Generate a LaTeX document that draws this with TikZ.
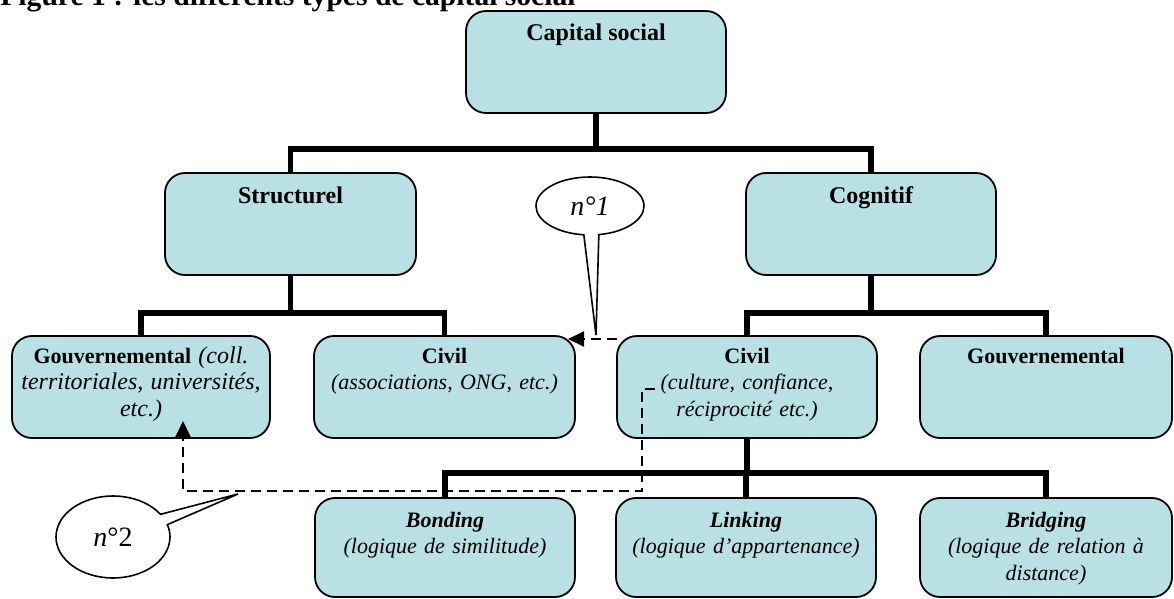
\documentclass[tikz,border=0pt]{standalone}
\usepackage{fontspec}
\setmainfont{Liberation Serif}
\usetikzlibrary{arrows.meta,shapes.callouts,fit}
\definecolor{boxfill}{RGB}{185,224,228}
\begin{document}
\begin{tikzpicture}[x=0.5pt,y=-0.5pt,
  box/.style={draw=black,line width=0.9pt,fill=boxfill,rounded corners=10pt,inner sep=0pt},
  conn/.style={line width=2.6pt,line join=miter},
  dashln/.style={line width=1pt,dash pattern=on 5pt off 3pt},
  tip/.style={-{Triangle[length=8pt,width=7.5pt]}},
  bigtxt/.style={font=\fontsize{12}{14}\selectfont\bfseries,anchor=base,inner sep=0pt},
  txt/.style={font=\fontsize{11}{13.25}\selectfont,align=center,anchor=base,inner sep=0pt,text width=126pt},
  callbox/.style={ellipse callout,draw=black,line width=0.8pt,fill=white,inner sep=0pt,callout pointer arc=16,font=\fontsize{14}{16}\selectfont}
]
\useasboundingbox (0,0) rectangle (1174,599);
\clip (0,0) rectangle (1174,599);
\node[font=\fontsize{14.8}{16}\selectfont\bfseries,anchor=base west,inner sep=0pt] (title) at (0,6) {Figure 1 : les différents types de capital social};

% boxes
\node[box,fit={(466,11) (726,113)}] (cap) {};
\node[box,fit={(165,173) (416,275)}] (struct) {};
\node[box,fit={(746,173) (996,275)}] (cog) {};
\node[box,fit={(12,336) (270,438)}] (gouvS) {};
\node[box,fit={(314,336) (575,438)}] (civS) {};
\node[box,fit={(617,336) (877,438)}] (civC) {};
\node[box,fit={(920,336) (1172,438)}] (gouvC) {};
\node[box,fit={(315,498) (575,597)}] (bond) {};
\node[box,fit={(616,498) (876,597)}] (link) {};
\node[box,fit={(920,498) (1172,597)}] (bridg) {};

% texts
\node[bigtxt] (tcap) at (cap.north |- 0,41) {Capital social};
\node[bigtxt] (tstruct) at (struct.north |- 0,204) {Structurel};
\node[bigtxt] (tcog) at (cog.north |- 0,204) {Cognitif};
\node[txt,text width=128pt] (tgouvS) at (gouvS.north |- 0,363) {\textbf{Gouvernemental} {\fontsize{12}{13.5}\selectfont\textit{(coll.}}\\ {\fontsize{12}{13.5}\selectfont\textit{territoriales, universités,}}\\ {\fontsize{12}{13.5}\selectfont\textit{etc.)}}};
\node[txt] (tcivS) at (civS.north |- 0,363) {\textbf{Civil}\\ \textit{(associations, ONG, etc.)}};
\node[txt] (tcivC) at (civC.north |- 0,363) {\textbf{Civil}\\ \textit{(culture, confiance,}\\ \textit{réciprocité etc.)}};
\node[txt] (tgouvC) at (gouvC.north |- 0,363) {\textbf{Gouvernemental}};
\node[txt] (tbond) at (bond.north |- 0,527) {\textbf{\textit{Bonding}}\\ \textit{(logique de similitude)}};
\node[txt] (tlink) at (link.north |- 0,527) {\textbf{\textit{Linking}}\\ \textit{(logique d’appartenance)}};
\node[txt] (tbridg) at (bridg.north |- 0,527) {\textbf{\textit{Bridging}}\\ \textit{(logique de relation à}\\ \textit{distance)}};

% dashed connectors
\coordinate (d1s) at (617,339);
\coordinate (d1e) at (568,339);
\draw[dashln,tip] (d1s) -- (d1e);
\coordinate (d2s) at (655,389);
\coordinate (d2a) at (642,389);
\coordinate (d2b) at (642,491);
\coordinate (d2e) at (183,421);
\draw[dashln,tip] (d2s) -- (d2a) -- (d2b) -| (d2e);

% tree connectors
\draw[conn] (cap.south) -- (cap.south |- 0,149) -| (struct.north);
\draw[conn] (cap.south |- 0,149) -| (cog.north);
\draw[conn] (struct.south) -- (struct.south |- 0,313) -| (gouvS.north);
\draw[conn] (struct.south |- 0,313) -| (civS.north);
\draw[conn] (cog.south) -- (cog.south |- 0,313) -| (civC.north);
\draw[conn] (cog.south |- 0,313) -| (gouvC.north);
\draw[conn] (civC.south) -- (civC.south |- 0,473) -| (bond.north);
\draw[conn] (civC.south |- 0,473) -| (link.north);
\draw[conn] (civC.south |- 0,473) -| (bridg.north);

% callouts
\coordinate (p1) at (596,335);
\coordinate (p2) at (238,494);
\node[callbox,minimum width=54pt,minimum height=29pt,callout absolute pointer={(p1)}] (c1) at (590,206) {\textit{n°1}\hspace{6pt}};
\node[callbox,minimum width=57pt,minimum height=41pt,callout absolute pointer={(p2)}] (c2) at (113,537) {\textit{n}°2\hspace{8pt}};
\end{tikzpicture}
\end{document}
